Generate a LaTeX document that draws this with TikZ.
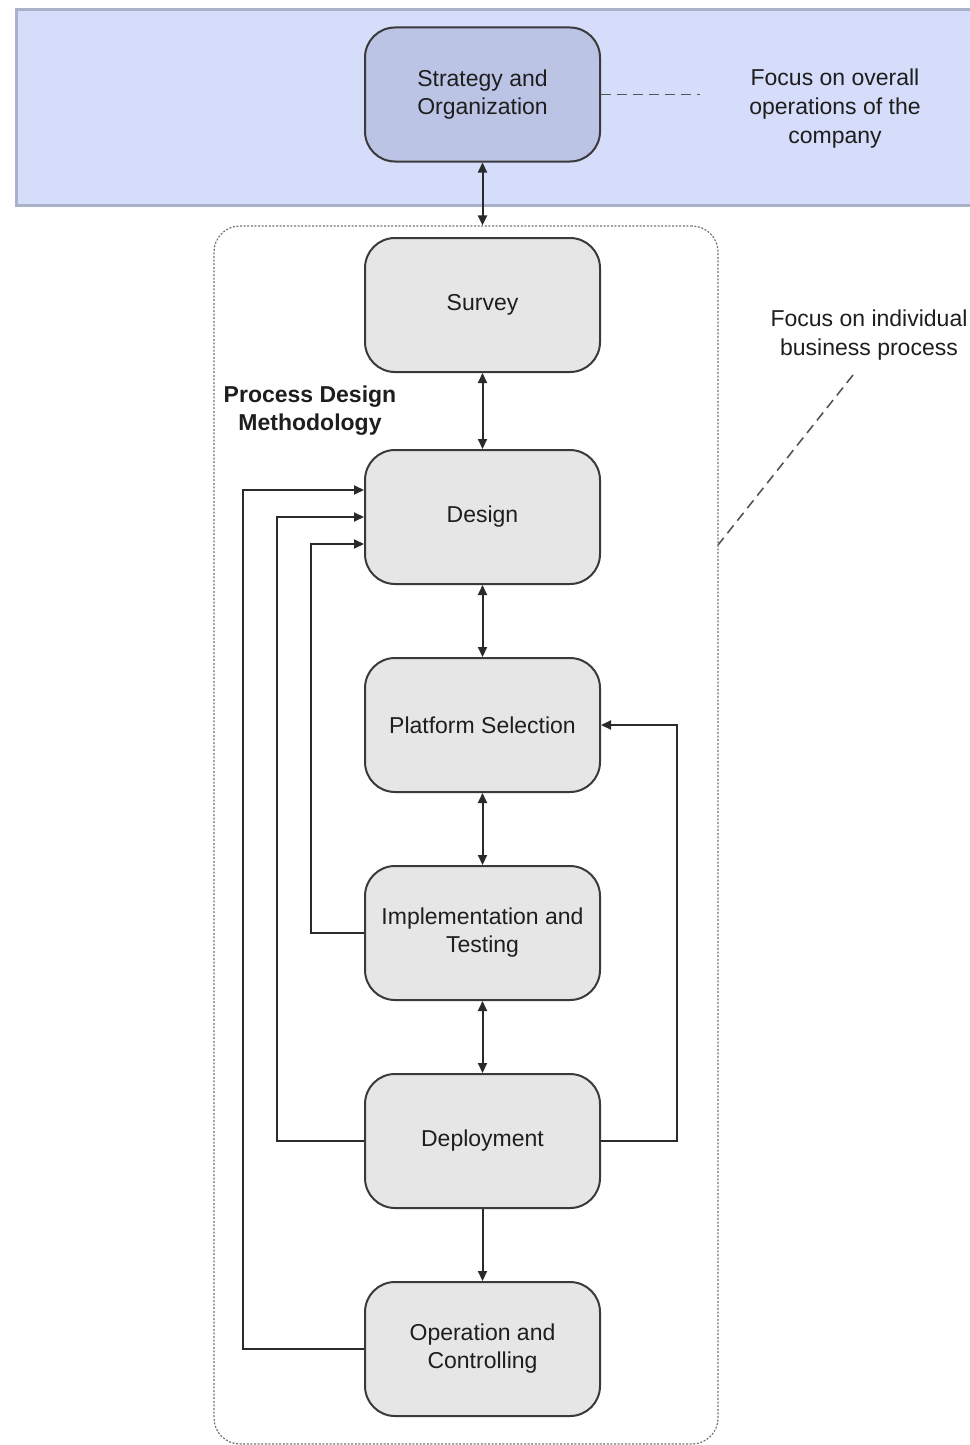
\documentclass[tikz,border=0pt]{standalone}
\usepackage{fontspec}
\setmainfont{Liberation Sans}
\usetikzlibrary{arrows.meta}
\definecolor{bandfill}{HTML}{D5DDFA}
\definecolor{bandline}{HTML}{AAB2CA}
\definecolor{stratfill}{HTML}{BCC4E6}
\definecolor{stagefill}{HTML}{E6E6E6}
\definecolor{boxline}{HTML}{3A3A3A}
\definecolor{linecol}{HTML}{2A2A2A}
\definecolor{textcol}{HTML}{1E1E1E}
\definecolor{calloutcol}{HTML}{555555}
\begin{document}
\begin{tikzpicture}[x=0.5pt,y=-0.5pt,
  stage/.style={draw=boxline, line width=1pt, fill=stagefill, rounded corners=15pt,
    minimum width=117.5pt, minimum height=67pt, align=center, inner sep=0pt,
    text=textcol, font=\fontsize{11.5}{14}\selectfont},
  note/.style={align=center, inner sep=0pt, text=textcol, font=\fontsize{11.5}{14.5}\selectfont},
  link/.style={draw=linecol, line width=1pt},
  fwd/.style={-{Triangle[length=5pt,width=4.5pt]}},
  both/.style={{Triangle[length=5pt,width=4.5pt]}-{Triangle[length=5pt,width=4.5pt]}},
  callout/.style={draw=calloutcol, line width=0.8pt, dash pattern=on 5pt off 3pt},
  frame/.style={draw=gray!90!black, line width=0.6pt, dash pattern=on 1pt off 0.8pt,
    rounded corners=13pt, minimum width=252pt, minimum height=609pt, inner sep=0pt}
]
\useasboundingbox (0,0) rectangle (969,1445);

% company-level band
\draw[fill=bandfill, draw=bandline, line width=1.5pt] (16,10) rectangle (985,205);

% process design frame
\node[frame] (pdm) at (466,835) {};

% stages
\node[stage, fill=stratfill] (strat) at (482.5,94.5) {Strategy and\\Organization};
\node[stage] (survey)   at (482.5,305)  {Survey};
\node[stage] (design)   at (482.5,517)  {Design};
\node[stage] (platform) at (482.5,725)  {Platform Selection};
\node[stage] (impl)     at (482.5,933)  {Implementation and\\Testing};
\node[stage] (deploy)   at (482.5,1141) {Deployment};
\node[stage] (oper)     at (482.5,1349) {Operation and\\Controlling};

% labels
\node[note, font=\fontsize{11.5}{14}\selectfont\bfseries] (pdmlabel) at (310,411) {Process Design\\Methodology};
\node[note] (overall) at (835,109) {Focus on overall\\operations of the\\company};
\node[note] (individual) at (869,335) {Focus on individual\\business process};

% callout lines
\coordinate (c1) at (700,94.5);
\draw[callout] (strat.east) -- (c1);
\coordinate (c2a) at (853,375);
\coordinate (c2b) at (718,545);
\draw[callout] (c2a) -- (c2b);

% main sequence
\draw[link, both] (strat.south) -- (strat.south |- pdm.north);
\draw[link, both] (survey.south) -- (design.north);
\draw[link, both] (design.south) -- (platform.north);
\draw[link, both] (platform.south) -- (impl.north);
\draw[link, both] (impl.south) -- (deploy.north);
\draw[link, fwd] (deploy.south) -- (oper.north);

% feedback loops
\draw[link, fwd] (oper.west) -- ++(-121,0) |- ([yshift=13.5pt]design.west);
\draw[link, fwd] (deploy.west) -- ++(-87,0) |- (design.west);
\draw[link, fwd] (impl.west) -- ++(-53,0) |- ([yshift=-13.5pt]design.west);
\draw[link, fwd] (deploy.east) -- ++(76,0) |- (platform.east);
\end{tikzpicture}
\end{document}
